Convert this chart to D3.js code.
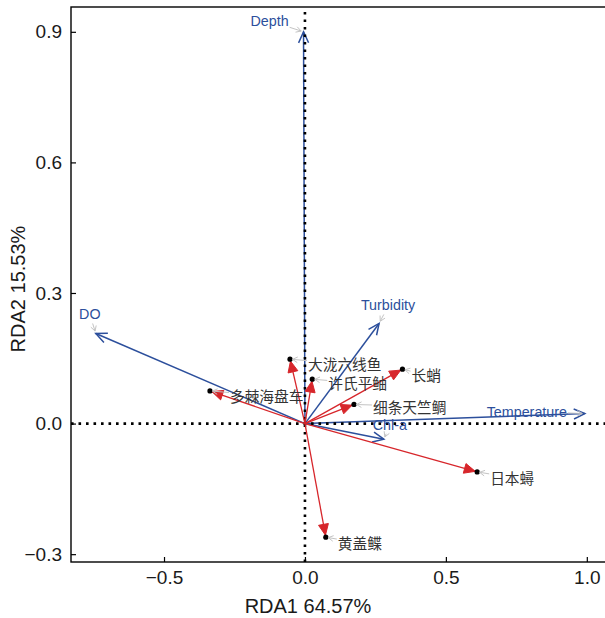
<!DOCTYPE html>
<html>
<head>
<meta charset="utf-8">
<script src="https://cdn.jsdelivr.net/npm/d3@7"></script>
<style>
    body { margin: 0; background: #fff; }
</style>
</head>
<body>
<div id="chart"></div>
<script>

// species scores
var species = ["大泷六线鱼", "许氏平鲉", "多棘海盘车", "长蛸", "细条天竺鲷", "日本蟳", "黄盖鲽"];
var spRDA1 = [-0.053, 0.026, -0.337, 0.346, 0.174, 0.611, 0.074];
var spRDA2 = [0.148, 0.102, 0.075, 0.125, 0.044, -0.111, -0.261];

// environmental factors
var envNames = ["Depth", "DO", "Turbidity", "Temperature", "Chl-a"];
var envRDA1 = [-0.005, -0.742, 0.263, 0.993, 0.280];
var envRDA2 = [0.900, 0.207, 0.230, 0.023, -0.036];

var xTicks = [-0.5, 0, 0.5, 1.0];
var yTicks = [-0.3, 0, 0.3, 0.6, 0.9];
var xTitle = "RDA1 64.57%";
var yTitle = "RDA2 15.53%";

// label nudges (px) - layout only
var spNudge = [[18, 6], [16, 5], [20, 6], [9, 7], [19, 3], [13, 7], [12, 7]];
var envNudge = [[-34, -11], [-6, -19], [9, -18], [-58, -2], [6, -14.5]];

var width = 605, height = 618;
var margin = { left: 71, top: 7, right: -10, bottom: 56 };

var red = "#d7262b", blue = "#2c4f9c", grey = "#c4c4c4";
var latin = "Arial, 'Liberation Sans', sans-serif";
var cjk = "'Noto Sans CJK SC', sans-serif";

var svg = d3.select("#chart").append("svg")
    .attr("width", width)
    .attr("height", height);

var x = d3.scaleLinear()
    .domain([-0.83, 1.10])
    .range([margin.left, width - margin.right]);
var y = d3.scaleLinear()
    .domain([-0.318, 0.957])
    .range([height - margin.bottom, margin.top]);

var fmt = d3.format(".1f");

// axes, ticks pointing inward
var xAxis = svg.append("g")
    .attr("transform", "translate(0," + y.range()[0] + ")")
    .call(d3.axisBottom(x).tickValues(xTicks).tickFormat(fmt).tickSize(-5).tickPadding(9));
var yAxis = svg.append("g")
    .attr("transform", "translate(" + x.range()[0] + ",0)")
    .call(d3.axisLeft(y).tickValues(yTicks).tickFormat(fmt).tickSize(-5).tickPadding(9));

[xAxis, yAxis].forEach(function (g) {
    g.select(".domain").remove();
    g.selectAll(".tick line").attr("stroke", "#000").attr("stroke-width", 1.2);
    g.selectAll(".tick text")
        .attr("fill", "#1a1a1a")
        .style("font-family", latin)
        .style("font-size", "19px");
});

svg.append("rect")
    .attr("x", x.range()[0])
    .attr("y", y.range()[1])
    .attr("width", x.range()[1] - x.range()[0])
    .attr("height", y.range()[0] - y.range()[1])
    .attr("fill", "none")
    .attr("stroke", "#000")
    .attr("stroke-width", 1.4);

svg.append("text")
    .attr("x", 308)
    .attr("y", 613)
    .attr("text-anchor", "middle")
    .style("font-family", latin)
    .style("font-size", "20px")
    .attr("fill", "#1a1a1a")
    .text(xTitle);

svg.append("text")
    .attr("transform", "translate(25,289) rotate(-90)")
    .attr("text-anchor", "middle")
    .style("font-family", latin)
    .style("font-size", "20px")
    .attr("fill", "#1a1a1a")
    .text(yTitle);

function head(x1, y1, x2, y2, len, half) {
    var dx = x2 - x1, dy = y2 - y1, l = Math.sqrt(dx * dx + dy * dy);
    var ux = dx / l, uy = dy / l;
    var bx = x2 - ux * len, by = y2 - uy * len;
    return [[bx - uy * half, by + ux * half], [x2, y2], [bx + uy * half, by - ux * half]];
}

var x0 = x(0), y0 = y(0);

// environmental arrows (open heads)
var envG = svg.append("g");
envNames.forEach(function (n, i) {
    var tx = x(envRDA1[i]), ty = y(envRDA2[i]);
    envG.append("line")
        .attr("x1", x0).attr("y1", y0).attr("x2", tx).attr("y2", ty)
        .attr("stroke", blue).attr("stroke-width", 1.5);
    var h = head(x0, y0, tx, ty, 11, 5);
    envG.append("path")
        .attr("d", d3.line()(h))
        .attr("fill", "none").attr("stroke", blue).attr("stroke-width", 1.5);
});

// zero lines
svg.append("line")
    .attr("x1", x.range()[0]).attr("x2", x.range()[1])
    .attr("y1", y0).attr("y2", y0)
    .attr("stroke", "#000").attr("stroke-width", 2.6)
    .attr("stroke-dasharray", "2.6 4.9");
svg.append("line")
    .attr("x1", x0).attr("x2", x0)
    .attr("y1", y.range()[0]).attr("y2", y.range()[1])
    .attr("stroke", "#000").attr("stroke-width", 2.6)
    .attr("stroke-dasharray", "2.6 4.9");

// species arrows (filled heads)
var spG = svg.append("g");
species.forEach(function (n, i) {
    var px = x(spRDA1[i]), py = y(spRDA2[i]);
    var dx = px - x0, dy = py - y0, l = Math.sqrt(dx * dx + dy * dy);
    var tx = px - dx / l * 2, ty = py - dy / l * 2;
    spG.append("line")
        .attr("x1", x0).attr("y1", y0).attr("x2", tx).attr("y2", ty)
        .attr("stroke", red).attr("stroke-width", 1.3);
    var h = head(x0, y0, tx, ty, 11, 5);
    spG.append("path")
        .attr("d", d3.line()(h) + "Z")
        .attr("fill", red).attr("stroke", red).attr("stroke-width", 1);
    spG.append("circle")
        .attr("cx", px).attr("cy", py).attr("r", 2.6)
        .attr("fill", "#000");
});

// connector from label box to target point
function connect(g, box, px, py) {
    var cx = box.x + box.width / 2, cy = box.y + box.height / 2;
    var dx = px - cx, dy = py - cy;
    var hw = box.width / 2 + 1, hh = box.height / 2 + 1;
    var t = Math.min(Math.abs(hw / (dx || 1e-9)), Math.abs(hh / (dy || 1e-9)));
    if (t >= 1) return;
    var sx = cx + dx * t, sy = cy + dy * t;
    var l = Math.sqrt((px - sx) * (px - sx) + (py - sy) * (py - sy));
    if (l < 4) return;
    var ex = px - (px - sx) / l * 2.5, ey = py - (py - sy) / l * 2.5;
    g.append("line")
        .attr("x1", sx).attr("y1", sy).attr("x2", ex).attr("y2", ey)
        .attr("stroke", grey).attr("stroke-width", 1);
    g.append("path")
        .attr("d", d3.line()(head(sx, sy, ex, ey, 5, 2.8)))
        .attr("fill", "none").attr("stroke", grey).attr("stroke-width", 1);
}

var labG = svg.append("g");

envNames.forEach(function (n, i) {
    var tx = x(envRDA1[i]), ty = y(envRDA2[i]);
    var t = labG.append("text")
        .attr("x", tx + envNudge[i][0])
        .attr("y", ty + envNudge[i][1])
        .attr("text-anchor", "middle")
        .attr("dy", "0.35em")
        .style("font-family", latin)
        .style("font-size", "14.3px")
        .attr("fill", blue)
        .text(n);
    connect(labG, t.node().getBBox(), tx, ty);
});

species.forEach(function (n, i) {
    var px = x(spRDA1[i]), py = y(spRDA2[i]);
    var t = labG.append("text")
        .attr("x", px + spNudge[i][0])
        .attr("y", py + spNudge[i][1])
        .attr("dy", "0.36em")
        .style("font-family", cjk)
        .style("font-size", "14.7px")
        .attr("fill", "#333")
        .text(n);
    connect(labG, t.node().getBBox(), px, py);
});

</script>
</body>
</html>
